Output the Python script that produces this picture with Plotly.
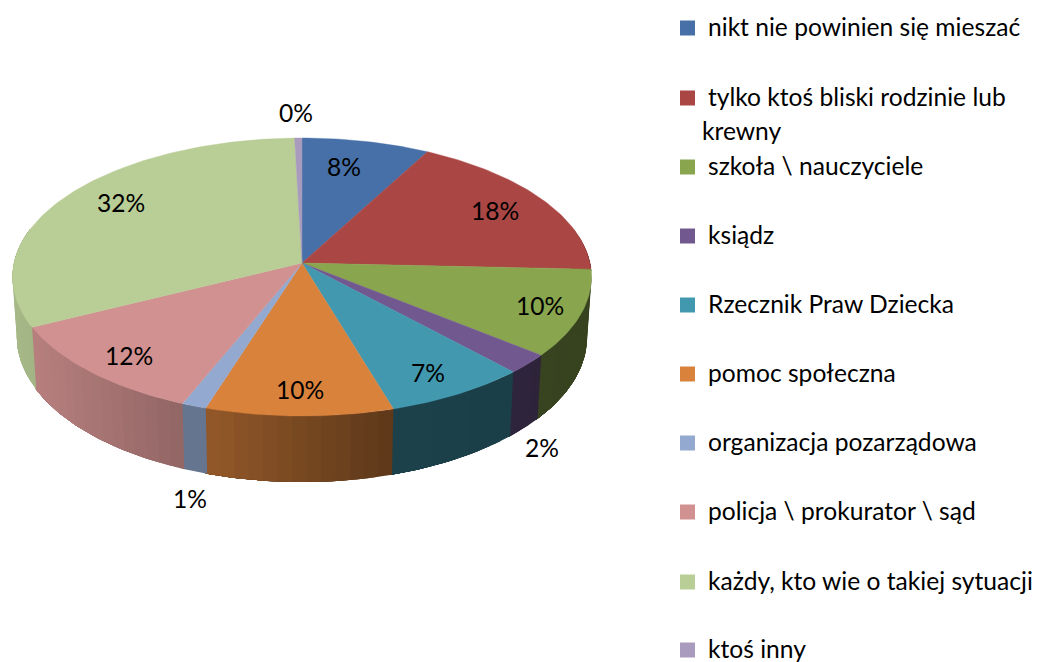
import numpy as np
import plotly.graph_objects as go

categories = ["nikt nie powinien się mieszać", "tylko ktoś bliski rodzinie lub krewny",
              "szkoła \\ nauczyciele", "ksiądz", "Rzecznik Praw Dziecka", "pomoc społeczna",
              "organizacja pozarządowa", "policja \\ prokurator \\ sąd",
              "każdy, kto wie o takiej sytuacji", "ktoś inny"]
values = [7.86, 17.84, 10.1, 2.3, 7.26, 9.51, 1.25, 11.5, 31.9, 0.45]
colors = ["#4670A7", "#AA4643", "#89A54E", "#71588F", "#4198AF", "#D9823C",
          "#93A9CF", "#D09190", "#B9CD96", "#A99BBD"]

FONT = "Lato"
FS = 24.6
CX, CY, A, B, K, DEPTH, SHRINK = 302.0, 263.0, 288.0, 137.6, 0.1007, 59.4, 0.985
label_xy = [(344, 170), (495, 214), (540, 309), (542, 451), (428, 376),
            (300, 393), (190, 502), (129, 359), (121, 206), (296, 116)]
legend_y = [26, 96, 165, 234, 303, 372, 441, 510, 580, 648]
shade_x = [12, 32, 182, 206, 393, 591]
shade_f = [0.90, 0.88, 0.70, 0.68, 0.43, 0.40]


def top(theta):
    u, v = np.sin(theta), np.cos(theta)
    w = 1 + K * v
    return CX + A * u / w, CY - B * v / w


def bottom(theta):
    u, v = np.sin(theta), np.cos(theta)
    w = 1 + K * v
    return CX + SHRINK * A * u / w, CY + (DEPTH - B * v) / w


def shade(hex_color, f):
    r, g, b = (int(hex_color[i:i + 2], 16) for i in (1, 3, 5))
    return f"rgb({r * f:.0f},{g * f:.0f},{b * f:.0f})"


fig = go.Figure()
fr = np.array(values) / sum(values)
edges = np.concatenate([[0], np.cumsum(fr)]) * 2 * np.pi

# side wall: painted strip over strip, each reaching past the next one, so no seams show
for i, c in enumerate(colors):
    a0, a1 = edges[i], edges[i + 1]
    lo, hi = max(a0, np.pi * 0.42), min(a1, np.pi * 1.58)
    if hi <= lo:
        continue
    n = max(1, int((hi - lo) / np.radians(2.5)))
    grid = np.linspace(lo, hi, n + 1)
    reach = hi + np.radians(0.4)
    for t0, t1 in zip(grid[:-1], grid[1:]):
        t = np.linspace(t0, reach, max(3, int((reach - t0) / np.radians(1)) + 2))
        xm = top(np.array([(t0 + t1) / 2]))[0][0]
        xt, yt = top(t)
        xb, yb = bottom(t)
        col = shade(c, float(np.interp(xm, shade_x, shade_f)))
        fig.add_trace(go.Scatter(
            x=np.concatenate([xt, xb[::-1], xt[:1]]),
            y=np.concatenate([yt, yb[::-1], yt[:1]]),
            mode="lines", fill="toself", fillcolor=col,
            line=dict(width=0), hoverinfo="skip", showlegend=False))

# top faces
for i, c in enumerate(colors):
    t = np.linspace(edges[i], edges[i + 1], max(3, int(fr[i] * 360)))
    xt, yt = top(t)
    fig.add_trace(go.Scatter(
        x=np.concatenate([[CX], xt, [CX]]), y=np.concatenate([[CY], yt, [CY]]),
        mode="lines", fill="toself", fillcolor=c, line=dict(color=c, width=0.4),
        name=categories[i], hoverinfo="name", showlegend=False))

# percentage labels
fig.add_trace(go.Scatter(
    x=[p[0] for p in label_xy], y=[p[1] for p in label_xy],
    text=[f"{round(v)}%" for v in values], mode="text",
    textfont=dict(family=FONT, size=FS, color="#000000"),
    hoverinfo="skip", showlegend=False))

# legend
square_y = [y + 2 for y in legend_y]
fig.add_trace(go.Scatter(
    x=[687.5] * len(colors), y=square_y, mode="markers",
    marker=dict(symbol="square", size=15, color=colors, line=dict(width=0)),
    hoverinfo="skip", showlegend=False))
for name, y in zip(categories, legend_y):
    lines = name.split(" lub ")
    if len(lines) == 2:
        fig.add_annotation(x=708, y=y, text=lines[0] + " lub", xref="x", yref="y", xanchor="left",
                           yanchor="middle", showarrow=False, xshift=-2,
                           font=dict(family=FONT, size=FS, color="#000000"))
        fig.add_annotation(x=702, y=y + 34, text=lines[1], xref="x", yref="y", xanchor="left",
                           yanchor="middle", showarrow=False, xshift=-2,
                           font=dict(family=FONT, size=FS, color="#000000"))
    else:
        fig.add_annotation(x=708, y=y, text=name, xref="x", yref="y", xanchor="left",
                           yanchor="middle", showarrow=False, xshift=-2,
                           font=dict(family=FONT, size=FS, color="#000000"))

fig.update_layout(width=1038, height=662, margin=dict(l=0, r=0, t=0, b=0),
                  paper_bgcolor="white", plot_bgcolor="white", showlegend=False,
                  xaxis=dict(range=[0, 1038], visible=False, fixedrange=True),
                  yaxis=dict(range=[662, 0], visible=False, fixedrange=True))
fig.write_html("out.html", post_script="document.body.style.margin='0';",
               config={"displayModeBar": False})
